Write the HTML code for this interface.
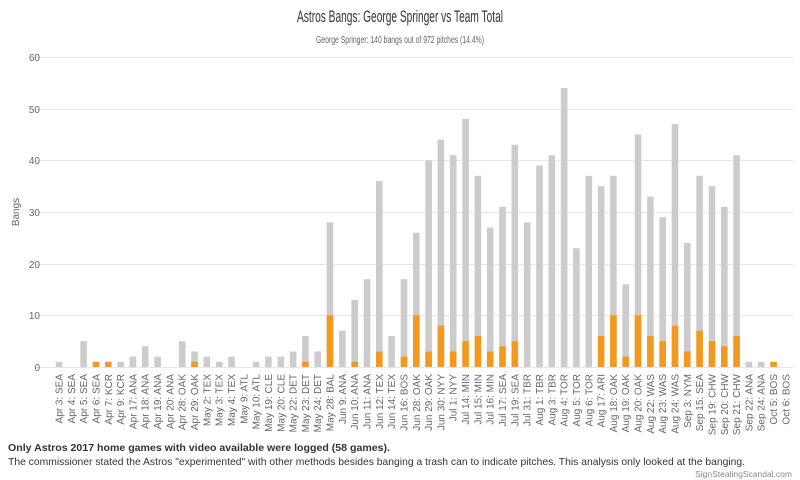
<!DOCTYPE html>
<html><head><meta charset="utf-8"><style>
body{margin:0;background:#fff;}
svg{display:block;font-family:"Liberation Sans",sans-serif;}
</style></head><body>
<svg width="800" height="480" viewBox="0 0 800 480">
<text x="400" y="22" text-anchor="middle" font-size="17" fill="#333" textLength="206" lengthAdjust="spacingAndGlyphs">Astros Bangs: George Springer vs Team Total</text>
<text x="400" y="43" text-anchor="middle" font-size="10.5" fill="#666" textLength="168" lengthAdjust="spacingAndGlyphs">George Springer: 140 bangs out of 972 pitches (14.4%)</text>
<g stroke="#e6e6e6" stroke-width="1">
<line x1="36" x2="793" y1="57.5" y2="57.5"/><line x1="36" x2="793" y1="109.5" y2="109.5"/><line x1="36" x2="793" y1="160.5" y2="160.5"/><line x1="36" x2="793" y1="212.5" y2="212.5"/><line x1="36" x2="793" y1="264.5" y2="264.5"/><line x1="36" x2="793" y1="315.5" y2="315.5"/><line x1="36" x2="793" y1="367.5" y2="367.5"/>
</g>
<g font-size="10" fill="#666" text-anchor="end">
<text x="40" y="61">60</text><text x="40" y="113">50</text><text x="40" y="164">40</text><text x="40" y="216">30</text><text x="40" y="268">20</text><text x="40" y="319">10</text><text x="40" y="371">0</text>
</g>
<text transform="translate(19,212) rotate(-90)" text-anchor="middle" font-size="10" fill="#666">Bangs</text>
<g fill="#cccccc">
<rect x="55.7" y="361.8" width="6.6" height="5.2"/>
<rect x="80.3" y="341.2" width="6.6" height="25.8"/>
<rect x="117.3" y="361.8" width="6.6" height="5.2"/>
<rect x="129.6" y="356.7" width="6.6" height="10.3"/>
<rect x="141.9" y="346.3" width="6.6" height="20.7"/>
<rect x="154.3" y="356.7" width="6.6" height="10.3"/>
<rect x="178.9" y="341.2" width="6.6" height="25.8"/>
<rect x="191.2" y="351.5" width="6.6" height="15.5"/>
<rect x="203.5" y="356.7" width="6.6" height="10.3"/>
<rect x="215.9" y="361.8" width="6.6" height="5.2"/>
<rect x="228.2" y="356.7" width="6.6" height="10.3"/>
<rect x="252.8" y="361.8" width="6.6" height="5.2"/>
<rect x="265.1" y="356.7" width="6.6" height="10.3"/>
<rect x="277.5" y="356.7" width="6.6" height="10.3"/>
<rect x="289.8" y="351.5" width="6.6" height="15.5"/>
<rect x="302.1" y="336" width="6.6" height="31"/>
<rect x="314.4" y="351.5" width="6.6" height="15.5"/>
<rect x="326.7" y="222.3" width="6.6" height="144.7"/>
<rect x="339.1" y="330.8" width="6.6" height="36.2"/>
<rect x="351.4" y="299.8" width="6.6" height="67.2"/>
<rect x="363.7" y="279.2" width="6.6" height="87.8"/>
<rect x="376.0" y="181" width="6.6" height="186"/>
<rect x="388.3" y="336" width="6.6" height="31"/>
<rect x="400.7" y="279.2" width="6.6" height="87.8"/>
<rect x="413.0" y="232.7" width="6.6" height="134.3"/>
<rect x="425.3" y="160.3" width="6.6" height="206.7"/>
<rect x="437.6" y="139.7" width="6.6" height="227.3"/>
<rect x="449.9" y="155.2" width="6.6" height="211.8"/>
<rect x="462.3" y="119" width="6.6" height="248"/>
<rect x="474.6" y="175.8" width="6.6" height="191.2"/>
<rect x="486.9" y="227.5" width="6.6" height="139.5"/>
<rect x="499.2" y="206.8" width="6.6" height="160.2"/>
<rect x="511.5" y="144.8" width="6.6" height="222.2"/>
<rect x="523.9" y="222.3" width="6.6" height="144.7"/>
<rect x="536.2" y="165.5" width="6.6" height="201.5"/>
<rect x="548.5" y="155.2" width="6.6" height="211.8"/>
<rect x="560.8" y="88" width="6.6" height="279"/>
<rect x="573.1" y="248.2" width="6.6" height="118.8"/>
<rect x="585.5" y="175.8" width="6.6" height="191.2"/>
<rect x="597.8" y="186.2" width="6.6" height="180.8"/>
<rect x="610.1" y="175.8" width="6.6" height="191.2"/>
<rect x="622.4" y="284.3" width="6.6" height="82.7"/>
<rect x="634.7" y="134.5" width="6.6" height="232.5"/>
<rect x="647.1" y="196.5" width="6.6" height="170.5"/>
<rect x="659.4" y="217.2" width="6.6" height="149.8"/>
<rect x="671.7" y="124.2" width="6.6" height="242.8"/>
<rect x="684.0" y="243" width="6.6" height="124"/>
<rect x="696.3" y="175.8" width="6.6" height="191.2"/>
<rect x="708.7" y="186.2" width="6.6" height="180.8"/>
<rect x="721.0" y="206.8" width="6.6" height="160.2"/>
<rect x="733.3" y="155.2" width="6.6" height="211.8"/>
<rect x="745.6" y="361.8" width="6.6" height="5.2"/>
<rect x="757.9" y="361.8" width="6.6" height="5.2"/>
</g>
<g fill="#f39a1e">
<rect x="92.7" y="361.8" width="6.6" height="5.2"/>
<rect x="105.0" y="361.8" width="6.6" height="5.2"/>
<rect x="191.2" y="361.8" width="6.6" height="5.2"/>
<rect x="302.1" y="361.8" width="6.6" height="5.2"/>
<rect x="326.7" y="315.3" width="6.6" height="51.7"/>
<rect x="351.4" y="361.8" width="6.6" height="5.2"/>
<rect x="376.0" y="351.5" width="6.6" height="15.5"/>
<rect x="400.7" y="356.7" width="6.6" height="10.3"/>
<rect x="413.0" y="315.3" width="6.6" height="51.7"/>
<rect x="425.3" y="351.5" width="6.6" height="15.5"/>
<rect x="437.6" y="325.7" width="6.6" height="41.3"/>
<rect x="449.9" y="351.5" width="6.6" height="15.5"/>
<rect x="462.3" y="341.2" width="6.6" height="25.8"/>
<rect x="474.6" y="336" width="6.6" height="31"/>
<rect x="486.9" y="351.5" width="6.6" height="15.5"/>
<rect x="499.2" y="346.3" width="6.6" height="20.7"/>
<rect x="511.5" y="341.2" width="6.6" height="25.8"/>
<rect x="597.8" y="336" width="6.6" height="31"/>
<rect x="610.1" y="315.3" width="6.6" height="51.7"/>
<rect x="622.4" y="356.7" width="6.6" height="10.3"/>
<rect x="634.7" y="315.3" width="6.6" height="51.7"/>
<rect x="647.1" y="336" width="6.6" height="31"/>
<rect x="659.4" y="341.2" width="6.6" height="25.8"/>
<rect x="671.7" y="325.7" width="6.6" height="41.3"/>
<rect x="684.0" y="351.5" width="6.6" height="15.5"/>
<rect x="696.3" y="330.8" width="6.6" height="36.2"/>
<rect x="708.7" y="341.2" width="6.6" height="25.8"/>
<rect x="721.0" y="346.3" width="6.6" height="20.7"/>
<rect x="733.3" y="336" width="6.6" height="31"/>
<rect x="770.3" y="361.8" width="6.6" height="5.2"/>
</g>
<g font-size="10" fill="#666" text-anchor="end">
<text transform="translate(62.5,374) rotate(-90)">Apr 3: SEA</text>
<text transform="translate(74.8,374) rotate(-90)">Apr 4: SEA</text>
<text transform="translate(87.1,374) rotate(-90)">Apr 5: SEA</text>
<text transform="translate(99.5,374) rotate(-90)">Apr 6: SEA</text>
<text transform="translate(111.8,374) rotate(-90)">Apr 7: KCR</text>
<text transform="translate(124.1,374) rotate(-90)">Apr 9: KCR</text>
<text transform="translate(136.4,374) rotate(-90)">Apr 17: ANA</text>
<text transform="translate(148.7,374) rotate(-90)">Apr 18: ANA</text>
<text transform="translate(161.1,374) rotate(-90)">Apr 19: ANA</text>
<text transform="translate(173.4,374) rotate(-90)">Apr 20: ANA</text>
<text transform="translate(185.7,374) rotate(-90)">Apr 28: OAK</text>
<text transform="translate(198.0,374) rotate(-90)">Apr 29: OAK</text>
<text transform="translate(210.3,374) rotate(-90)">May 2: TEX</text>
<text transform="translate(222.7,374) rotate(-90)">May 3: TEX</text>
<text transform="translate(235.0,374) rotate(-90)">May 4: TEX</text>
<text transform="translate(247.3,374) rotate(-90)">May 9: ATL</text>
<text transform="translate(259.6,374) rotate(-90)">May 10: ATL</text>
<text transform="translate(271.9,374) rotate(-90)">May 19: CLE</text>
<text transform="translate(284.3,374) rotate(-90)">May 20: CLE</text>
<text transform="translate(296.6,374) rotate(-90)">May 22: DET</text>
<text transform="translate(308.9,374) rotate(-90)">May 23: DET</text>
<text transform="translate(321.2,374) rotate(-90)">May 24: DET</text>
<text transform="translate(333.5,374) rotate(-90)">May 28: BAL</text>
<text transform="translate(345.9,374) rotate(-90)">Jun 9: ANA</text>
<text transform="translate(358.2,374) rotate(-90)">Jun 10: ANA</text>
<text transform="translate(370.5,374) rotate(-90)">Jun 11: ANA</text>
<text transform="translate(382.8,374) rotate(-90)">Jun 12: TEX</text>
<text transform="translate(395.1,374) rotate(-90)">Jun 14: TEX</text>
<text transform="translate(407.5,374) rotate(-90)">Jun 16: BOS</text>
<text transform="translate(419.8,374) rotate(-90)">Jun 28: OAK</text>
<text transform="translate(432.1,374) rotate(-90)">Jun 29: OAK</text>
<text transform="translate(444.4,374) rotate(-90)">Jun 30: NYY</text>
<text transform="translate(456.7,374) rotate(-90)">Jul 1: NYY</text>
<text transform="translate(469.1,374) rotate(-90)">Jul 14: MIN</text>
<text transform="translate(481.4,374) rotate(-90)">Jul 15: MIN</text>
<text transform="translate(493.7,374) rotate(-90)">Jul 16: MIN</text>
<text transform="translate(506.0,374) rotate(-90)">Jul 17: SEA</text>
<text transform="translate(518.3,374) rotate(-90)">Jul 19: SEA</text>
<text transform="translate(530.7,374) rotate(-90)">Jul 31: TBR</text>
<text transform="translate(543.0,374) rotate(-90)">Aug 1: TBR</text>
<text transform="translate(555.3,374) rotate(-90)">Aug 3: TBR</text>
<text transform="translate(567.6,374) rotate(-90)">Aug 4: TOR</text>
<text transform="translate(579.9,374) rotate(-90)">Aug 5: TOR</text>
<text transform="translate(592.3,374) rotate(-90)">Aug 6: TOR</text>
<text transform="translate(604.6,374) rotate(-90)">Aug 17: ARI</text>
<text transform="translate(616.9,374) rotate(-90)">Aug 18: OAK</text>
<text transform="translate(629.2,374) rotate(-90)">Aug 19: OAK</text>
<text transform="translate(641.5,374) rotate(-90)">Aug 20: OAK</text>
<text transform="translate(653.9,374) rotate(-90)">Aug 22: WAS</text>
<text transform="translate(666.2,374) rotate(-90)">Aug 23: WAS</text>
<text transform="translate(678.5,374) rotate(-90)">Aug 24: WAS</text>
<text transform="translate(690.8,374) rotate(-90)">Sep 3: NYM</text>
<text transform="translate(703.1,374) rotate(-90)">Sep 15: SEA</text>
<text transform="translate(715.5,374) rotate(-90)">Sep 19: CHW</text>
<text transform="translate(727.8,374) rotate(-90)">Sep 20: CHW</text>
<text transform="translate(740.1,374) rotate(-90)">Sep 21: CHW</text>
<text transform="translate(752.4,374) rotate(-90)">Sep 22: ANA</text>
<text transform="translate(764.7,374) rotate(-90)">Sep 24: ANA</text>
<text transform="translate(777.1,374) rotate(-90)">Oct 5: BOS</text>
<text transform="translate(789.4,374) rotate(-90)">Oct 6: BOS</text>
</g>
<text x="8" y="451" font-size="10.5" font-weight="bold" fill="#333" textLength="382" lengthAdjust="spacingAndGlyphs">Only Astros 2017 home games with video available were logged (58 games).</text>
<text x="8" y="465" font-size="10.5" fill="#333" textLength="737" lengthAdjust="spacingAndGlyphs">The commissioner stated the Astros "experimented" with other methods besides banging a trash can to indicate pitches. This analysis only looked at the banging.</text>
<text x="792" y="477" font-size="8.5" fill="#888" text-anchor="end">SignStealingScandal.com</text>
</svg>
</body></html>
